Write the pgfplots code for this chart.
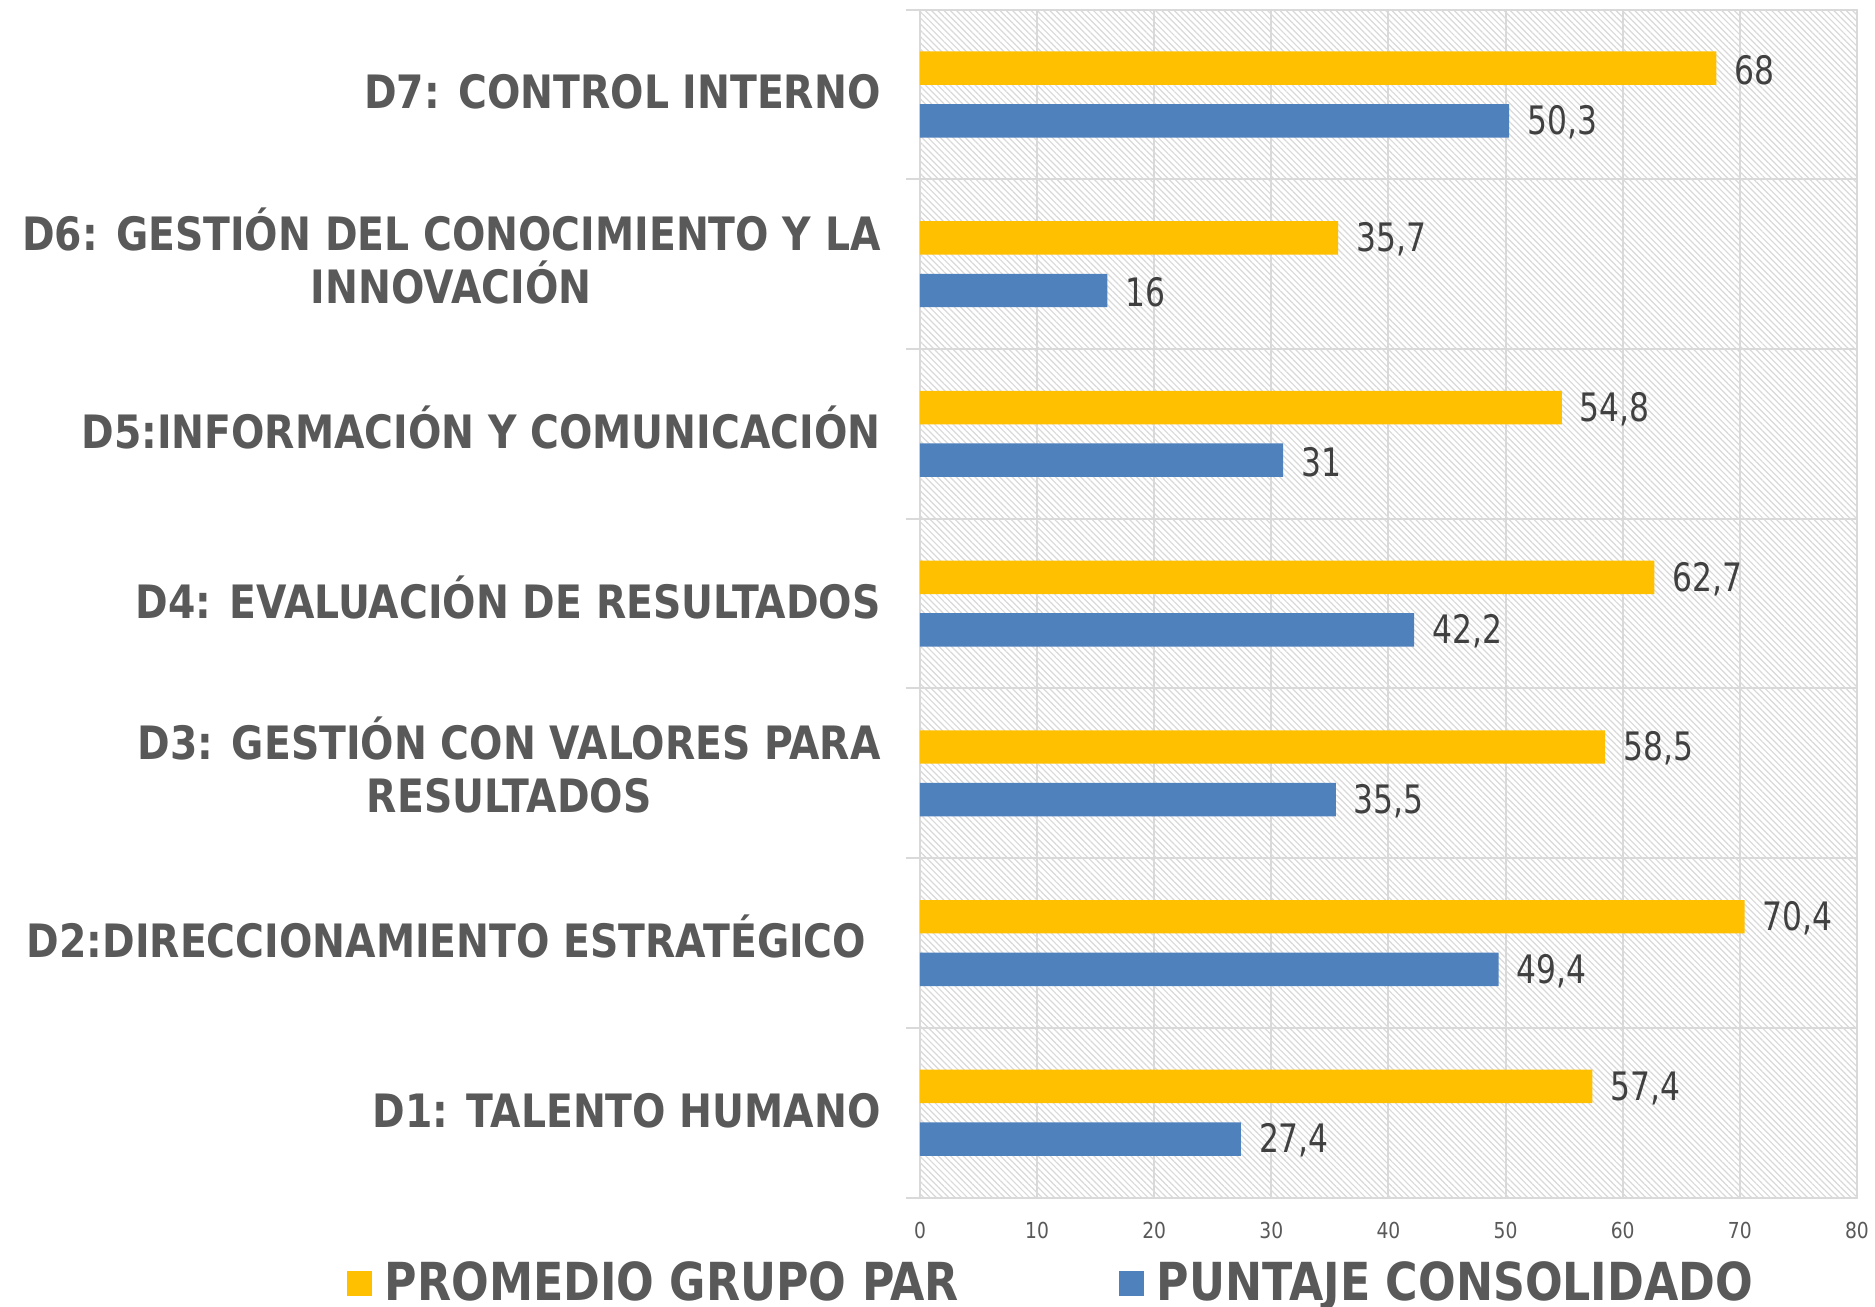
\documentclass[border=0pt]{standalone}
\usepackage{fontspec}
\usepackage{pgfplots}
\pgfplotsset{compat=1.18}
\usetikzlibrary{patterns.meta}
\newfontfamily\catfont{DejaVu Sans}[FakeStretch=0.855]
\newfontfamily\legfont{DejaVu Sans}[FakeStretch=0.846]
\newfontfamily\numfont{DejaVu Sans}[FakeStretch=0.8]
\newfontfamily\tickfont{DejaVu Sans}[FakeStretch=0.85]
\definecolor{ybar}{HTML}{FFC000}
\definecolor{bbar}{HTML}{4F81BD}
\definecolor{labgray}{HTML}{595959}
\definecolor{numgray}{HTML}{404040}
\definecolor{gridgray}{HTML}{D9D9D9}
\newcommand\two[2]{{\renewcommand{\arraystretch}{0.99}\begin{tabular}{@{}c@{}}\smash{#1}\\\smash{#2}\end{tabular}}}
\begin{document}
\begin{tikzpicture}
\path[use as bounding box] (-230pt,-27.25pt) rectangle (238.75pt,299.4pt);
\begin{axis}[
  at={(0,0)}, anchor=south west,
  scale only axis, width=234.25pt, height=297pt,
  xbar, bar width=0.197,
  xmin=0, xmax=80, ymin=-0.5, ymax=6.5,
  xtick={0,10,...,80},
  ytick={0,...,6},
  yticklabels={
    {D1: TALENTO HUMANO},
    {D2:DIRECCIONAMIENTO ESTRATÉGICO\rule{3.6pt}{0pt}},
    {\two{D3: GESTIÓN CON VALORES PARA}{RESULTADOS}},
    {D4: EVALUACIÓN DE RESULTADOS},
    {D5:INFORMACIÓN Y COMUNICACIÓN},
    {\two{D6: GESTIÓN DEL CONOCIMIENTO Y LA}{INNOVACIÓN}},
    {D7: CONTROL INTERNO}},
  minor ytick={-0.5,0.5,...,6.5},
  xmajorgrids, yminorgrids, ymajorgrids=false,
  grid style={draw=gridgray, line width=0.5pt},
  axis line style={draw=gridgray, line width=0.5pt},
  tick pos=left, tick align=outside,
  major tick length=0pt, minor tick length=3.5pt,
  every minor tick/.style={draw=gridgray, line width=0.5pt},
  axis background/.style={fill=white, postaction={pattern={Lines[angle=-45,distance=1.1pt,line width=0.3pt]}, pattern color=gray!30}},
  /pgf/number format/assume math mode=true,
  /pgf/number format/use comma,
  /pgf/number format/1000 sep={},
  xticklabel style={font=\tickfont\fontsize{5.5}{6}\selectfont, text=labgray, yshift=-2.6pt},
  yticklabel style={font=\catfont\bfseries\fontsize{11.5}{13.3}\selectfont, text=labgray, xshift=-6.3pt, yshift=0.6pt, text height=8.4pt, text depth=0pt},
  nodes near coords,
  nodes near coords style={font=\numfont\fontsize{9.8}{10}\selectfont, text=numgray, xshift=1pt, yshift=-0.4pt},
  legend columns=2,
  legend style={at={(0.143,-0.0724)}, anchor=center, draw=none, fill=none,
    font=\legfont\bfseries\fontsize{13.1}{14}\selectfont, text=labgray,
    /tikz/every even column/.append style={column sep=38pt}},
  legend image code/.code={\fill[#1] (0pt,-3.15pt) rectangle (6.3pt,3.15pt);\path (7.5pt,0pt);},
]
\addplot[fill=ybar, draw=none, bar shift=0.155] coordinates {(57.4,0) (70.4,1) (58.5,2) (62.7,3) (54.8,4) (35.7,5) (68,6)};
\addlegendentry{PROMEDIO GRUPO PAR}
\addplot[fill=bbar, draw=none, bar shift=-0.155] coordinates {(27.4,0) (49.4,1) (35.5,2) (42.2,3) (31,4) (16,5) (50.3,6)};
\addlegendentry{PUNTAJE CONSOLIDADO}
\end{axis}
\end{tikzpicture}
\end{document}
